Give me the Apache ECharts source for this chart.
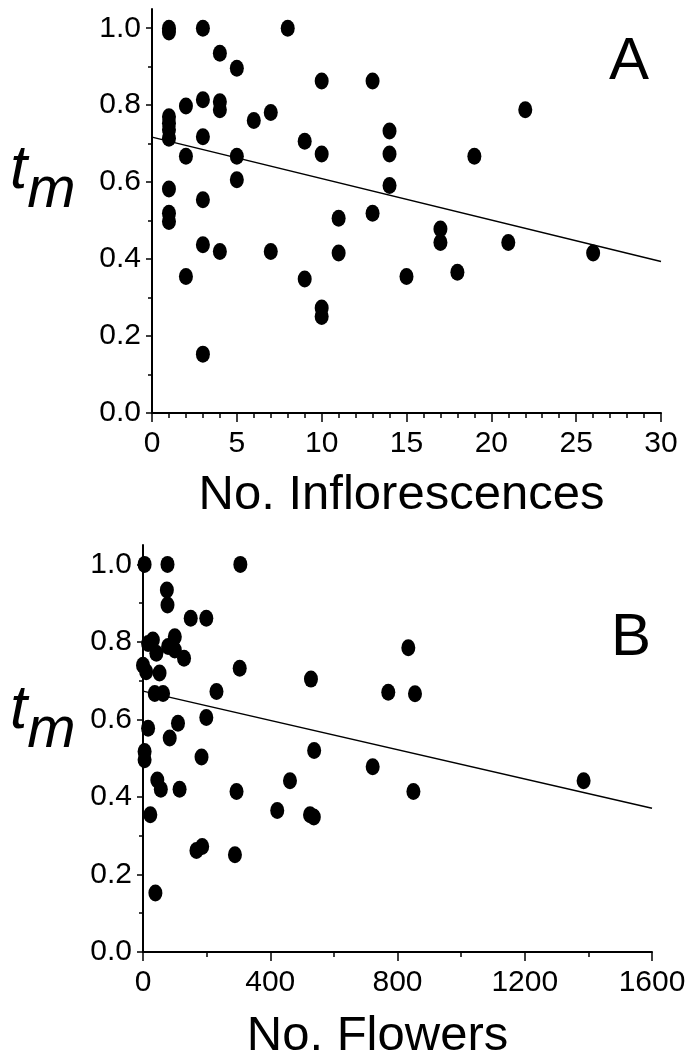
<!DOCTYPE html>
<html>
<head>
<meta charset="utf-8">
<script src="https://cdn.jsdelivr.net/npm/echarts@6/dist/echarts.min.js"></script>
<style>
  html, body { margin: 0; padding: 0; background: #fff; }
  #chart { width: 688px; height: 1060px; }
</style>
</head>
<body>
<div id="chart"></div>
<script>
// panel A: t_m against number of inflorescences
var inflorescencePoints = [
    [1, 1.0], [1, 0.99], [3, 1.0], [8, 1.0],
    [4, 0.935], [5, 0.896], [10, 0.863], [13, 0.863],
    [2, 0.798], [3, 0.814], [4, 0.809], [4, 0.788], [6, 0.760], [7, 0.781], [22, 0.788],
    [1, 0.770], [1, 0.753], [1, 0.736], [1, 0.714], [3, 0.718], [14, 0.733],
    [9, 0.706], [2, 0.667], [5, 0.667], [10, 0.673], [14, 0.673], [19, 0.667],
    [5, 0.606], [14, 0.591], [1, 0.582], [3, 0.554],
    [1, 0.519], [1, 0.498], [11, 0.506], [13, 0.519],
    [17, 0.478], [17, 0.443], [21, 0.443],
    [3, 0.437], [4, 0.42], [7, 0.42], [11, 0.416], [26, 0.416],
    [2, 0.355], [9, 0.348], [15, 0.355], [18, 0.366],
    [10, 0.273], [10, 0.251], [3, 0.153]
];
var inflorescenceFit = [[0, 0.717], [30, 0.394]];

// panel B: t_m against number of flowers
var flowerPoints = [
    [5, 1.0], [77, 1.0], [306, 1.0],
    [75, 0.934], [77, 0.895], [150, 0.861], [199, 0.861],
    [31, 0.805], [100, 0.813], [16, 0.796], [79, 0.788], [100, 0.779], [42, 0.771], [129, 0.758],
    [0, 0.74], [10, 0.723], [52, 0.72], [304, 0.732], [528, 0.704],
    [37, 0.667], [63, 0.667], [231, 0.672], [834, 0.785], [771, 0.67], [855, 0.666],
    [16, 0.577], [110, 0.59], [199, 0.605], [84, 0.552],
    [5, 0.517], [5, 0.496], [184, 0.503], [538, 0.52], [722, 0.478],
    [45, 0.444], [56, 0.42], [115, 0.42], [294, 0.414], [462, 0.442], [850, 0.414], [1385, 0.442],
    [23, 0.354], [422, 0.365], [525, 0.354], [537, 0.348],
    [168, 0.262], [186, 0.272], [289, 0.251], [39, 0.152]
];
var flowerFit = [[0, 0.673], [1600, 0.371]];

var yMajorTicks = [0, 0.2, 0.4, 0.6, 0.8, 1.0];
var yMinorTicks = [0.1, 0.3, 0.5, 0.7, 0.9];

var font = 'Liberation Sans, Arial, sans-serif';
var black = '#000';

function yAxes(grid) {
    return [
        {
            type: 'value', gridIndex: grid, position: 'left',
            min: 0, max: 1.05, interval: 0.2,
            axisLine: {show: true, lineStyle: {color: black, width: 2}},
            axisTick: {show: true, length: 6, customValues: yMajorTicks, lineStyle: {color: black, width: 1.5}},
            axisLabel: {
                customValues: yMajorTicks, margin: 11,
                color: black, fontFamily: font, fontSize: 30,
                formatter: function (v) { return v.toFixed(1); }
            },
            splitLine: {show: false}
        },
        {
            type: 'value', gridIndex: grid, position: 'left',
            min: 0, max: 1.05, interval: 0.2,
            axisLine: {show: false},
            axisTick: {show: true, length: 4, customValues: yMinorTicks, lineStyle: {color: black, width: 1.5}},
            axisLabel: {show: false},
            splitLine: {show: false}
        }
    ];
}

function xAxis(grid, max, step, minorSplit, name, gap, shift) {
    return {
        type: 'value', gridIndex: grid,
        min: 0, max: max, interval: step,
        name: name, nameLocation: 'middle', nameGap: gap,
        nameTextStyle: {color: black, fontFamily: font, fontSize: 49, padding: [0, shift, 0, 0]},
        axisLine: {show: true, onZero: false, lineStyle: {color: black, width: 2}},
        axisTick: {show: true, length: 9, lineStyle: {color: black, width: 1.5}},
        minorTick: {show: true, splitNumber: minorSplit, length: 5, lineStyle: {color: black, width: 1.5}},
        axisLabel: {
            color: black, fontFamily: font, fontSize: 30, margin: 16,
            formatter: function (v) { return String(v); }
        },
        splitLine: {show: false}
    };
}

function dots(xi, yi, data) {
    return {
        type: 'scatter', xAxisIndex: xi, yAxisIndex: yi,
        data: data, symbol: 'circle', symbolSize: [14, 17],
        itemStyle: {color: black, opacity: 1}, z: 3
    };
}

function fit(xi, yi, data) {
    return {
        type: 'line', xAxisIndex: xi, yAxisIndex: yi,
        data: data, symbol: 'none', silent: true,
        lineStyle: {color: black, width: 1.5}, z: 2
    };
}

function tmLabel(left, top) {
    return {
        type: 'text', left: left, top: top,
        style: {
            text: '{t|t}{m|m}',
            rich: {
                t: {fontFamily: font, fontStyle: 'italic', fontSize: 62, fill: black, verticalAlign: 'top'},
                m: {fontFamily: font, fontStyle: 'italic', fontSize: 58, fill: black, padding: [22, 0, 0, 0]}
            }
        }
    };
}

var chart = echarts.init(document.getElementById('chart'));
chart.setOption({
    backgroundColor: '#fff',
    animation: false,
    grid: [
        {left: 152, right: 27, top: 9, bottom: 647, outerBoundsMode: 'none'},
        {left: 143, right: 36, top: 545, bottom: 108, outerBoundsMode: 'none'}
    ],
    xAxis: [
        xAxis(0, 30, 5, 5, 'No. Inflorescences', 58, 10),
        xAxis(1, 1600, 400, 2, 'No. Flowers', 60, 40)
    ],
    yAxis: yAxes(0).concat(yAxes(1)),
    series: [
        fit(0, 0, inflorescenceFit),
        dots(0, 0, inflorescencePoints),
        fit(1, 2, flowerFit),
        dots(1, 2, flowerPoints)
    ],
    graphic: [
        tmLabel(10, 140),
        tmLabel(10, 680),
        {type: 'text', left: 609, top: 32, style: {text: 'A', fontFamily: font, fontSize: 60, fill: black}},
        {type: 'text', left: 611, top: 608, style: {text: 'B', fontFamily: font, fontSize: 60, fill: black}}
    ]
});
</script>
</body>
</html>
